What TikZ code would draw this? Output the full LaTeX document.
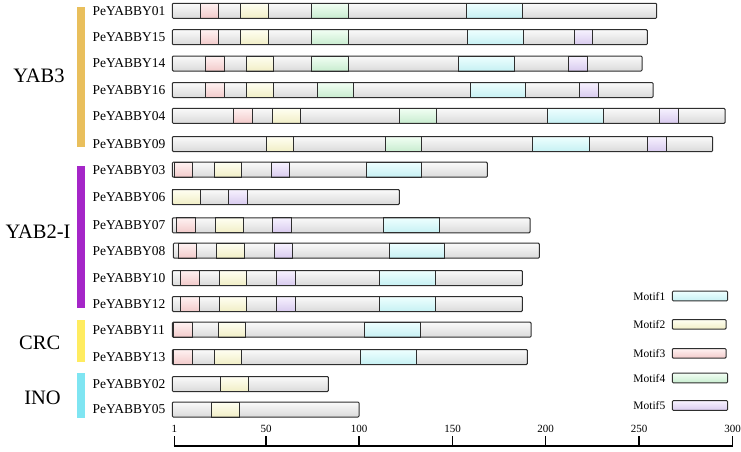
\documentclass[tikz,border=0pt]{standalone}
\usepackage{fontspec}
\setmainfont{Liberation Serif}
\definecolor{grtop}{HTML}{FAFAFA}
\definecolor{grbot}{HTML}{DADADA}
\definecolor{cAtop}{HTML}{EEFFFF}
\definecolor{cAbot}{HTML}{C6F0F3}
\definecolor{cBtop}{HTML}{FFFFF2}
\definecolor{cBbot}{HTML}{F1EEC6}
\definecolor{cCtop}{HTML}{FFF2F2}
\definecolor{cCbot}{HTML}{F2CACA}
\definecolor{cDtop}{HTML}{F2FFF4}
\definecolor{cDbot}{HTML}{C8ECCF}
\definecolor{cEtop}{HTML}{F7F2FF}
\definecolor{cEbot}{HTML}{D8CAEE}
\definecolor{gYABiii}{HTML}{E9BF5C}
\definecolor{gYABii}{HTML}{A526C8}
\definecolor{gCRC}{HTML}{FFEC60}
\definecolor{gINO}{HTML}{7FE5F2}
\definecolor{edge}{HTML}{2E2E2E}
\tikzset{
  genelab/.style={anchor=west,inner sep=0pt,font=\fontsize{13.5}{14}\selectfont},
  grouplab/.style={inner sep=0pt,font=\fontsize{20.5}{22}\selectfont},
  leglab/.style={anchor=east,inner sep=0pt,font=\fontsize{11.5}{12}\selectfont},
  ticklab/.style={inner sep=0pt,font=\fontsize{11}{12}\selectfont},
  barbody/.style={top color=grtop,bottom color=grbot,draw=none},
  barline/.style={draw=edge,line width=1pt,rounded corners=1pt},
  motifline/.style={draw=edge,line width=1pt},
  m1/.style={top color=cAtop,bottom color=cAbot},
  m2/.style={top color=cBtop,bottom color=cBbot},
  m3/.style={top color=cCtop,bottom color=cCbot},
  m4/.style={top color=cDtop,bottom color=cDbot},
  m5/.style={top color=cEtop,bottom color=cEbot},
  groupbar/.style={draw=none},
  axisline/.style={line width=2pt,draw=black},
  tickline/.style={line width=1.4pt,draw=black},
}
\newcommand\generow[5]{%
  \node[genelab] (#2) at (92.3,#1) {#2};
  \path[barbody,rounded corners=1pt] (#3,#1-7.5) rectangle (#4,#1+7.5);
  \foreach \c/\a/\b in {#5}{%
    \path[motifline,\c] (\a,#1-7.5) rectangle (\b,#1+7.5);
  }%
  \path[barline] (#3,#1-7.5) rectangle (#4,#1+7.5);
}
\begin{document}
\begin{tikzpicture}[x=1pt,y=-1pt]
\useasboundingbox (0,0) rectangle (741,451);
% group bars
\path[groupbar,fill=gYABiii] (76.7,6.7) rectangle (85,146.7);
\path[groupbar,fill=gYABii] (76.7,166) rectangle (85,308.3);
\path[groupbar,fill=gCRC] (76.7,320) rectangle (85,362.3);
\path[groupbar,fill=gINO] (76.7,373.3) rectangle (85,418.3);
\node[grouplab] (yab3) at (39,76) {YAB3};
\node[grouplab] (yab2) at (38,231.7) {YAB2-I};
\node[grouplab] (crc) at (39.7,343) {CRC};
\node[grouplab] (ino) at (42.5,397.5) {INO};
% genes
\generow{10.8}{PeYABBY01}{172.3}{656.7}{m3/200/218.7, m2/240.7/268.3, m4/311/348.3, m1/466/522}
\generow{37.2}{PeYABBY15}{172.3}{647.3}{m3/200/218.7, m2/240.7/268.3, m4/311/348.3, m1/467.3/523.3, m5/574.3/592.7}
\generow{63.5}{PeYABBY14}{172.3}{642}{m3/205.7/224, m2/246/273.3, m4/311/348.3, m1/458/514, m5/568.7/587.3}
\generow{90}{PeYABBY16}{172.3}{653}{m3/205.7/224, m2/246/273.3, m4/317/353.7, m1/470/525.7, m5/579.7/598.3}
\generow{115.8}{PeYABBY04}{172.3}{725}{m3/233.7/252, m2/272.7/300.3, m4/399.3/436.7, m1/547.3/603.3, m5/659.3/678.3}
\generow{144}{PeYABBY09}{172.3}{712.7}{m2/266/293.3, m4/385/421.7, m1/532.7/589, m5/647.3/666}
\generow{169.7}{PeYABBY03}{172.3}{487.3}{m3/174.3/192.3, m2/214/241.7, m5/271.3/289.7, m1/366/421.7}
\generow{197}{PeYABBY06}{172.3}{399.3}{m2/172.3/200, m5/228.7/247}
\generow{225.3}{PeYABBY07}{172.3}{530}{m3/176.7/195, m2/215.3/243, m5/272.7/291, m1/383.3/439.3}
\generow{250.7}{PeYABBY08}{173.3}{539.3}{m3/178/196, m2/216.7/244, m5/274/292.3, m1/389/444.3}
\generow{278}{PeYABBY10}{172.3}{522.3}{m3/180.7/199, m2/219.3/246.7, m5/276.7/295.3, m1/379.3/435.3}
\generow{304}{PeYABBY12}{172.3}{522.3}{m3/180.7/199, m2/219.3/246.7, m5/276.7/295.3, m1/379.3/435.3}
\generow{329.7}{PeYABBY11}{172.3}{531}{m3/173.3/192.3, m2/218.3/245.7, m1/364.7/420.7}
\generow{357}{PeYABBY13}{172.3}{527.3}{m3/173.3/192.3, m2/214/241.7, m1/360.7/416.5}
\generow{384}{PeYABBY02}{172.3}{328.3}{m2/220.7/248.3}
\generow{409.5}{PeYABBY05}{172.3}{359}{m2/211.3/239.3}
% legend
\foreach \m/\yy/\w in {1/296/727.7, 2/324.3/726, 3/353.3/726, 4/378/727.7, 5/405.5/727.7}{%
  \node[leglab] (leg\m) at (665.5,\yy) {Motif\m};
  \path[motifline,rounded corners=1pt,m\m] (672.3,\yy-4.8) rectangle (\w,\yy+4.8);
}
% axis
\coordinate (axL) at (174.3,446);
\coordinate (axR) at (732.7,446);
\draw[axisline] ([xshift=-0.7pt]axL) -- ([xshift=0.7pt]axR);
\foreach \v/\xx in {1/174.3, 50/266, 100/359, 150/452.7, 200/545.7, 250/639, 300/732.7}{%
  \coordinate (t\v) at (\xx,446);
  \draw[tickline] (t\v) -- ++(0,-10.5);
  \node[ticklab] (tl\v) at (\xx,429.3) {\v};
}
\end{tikzpicture}
\end{document}
